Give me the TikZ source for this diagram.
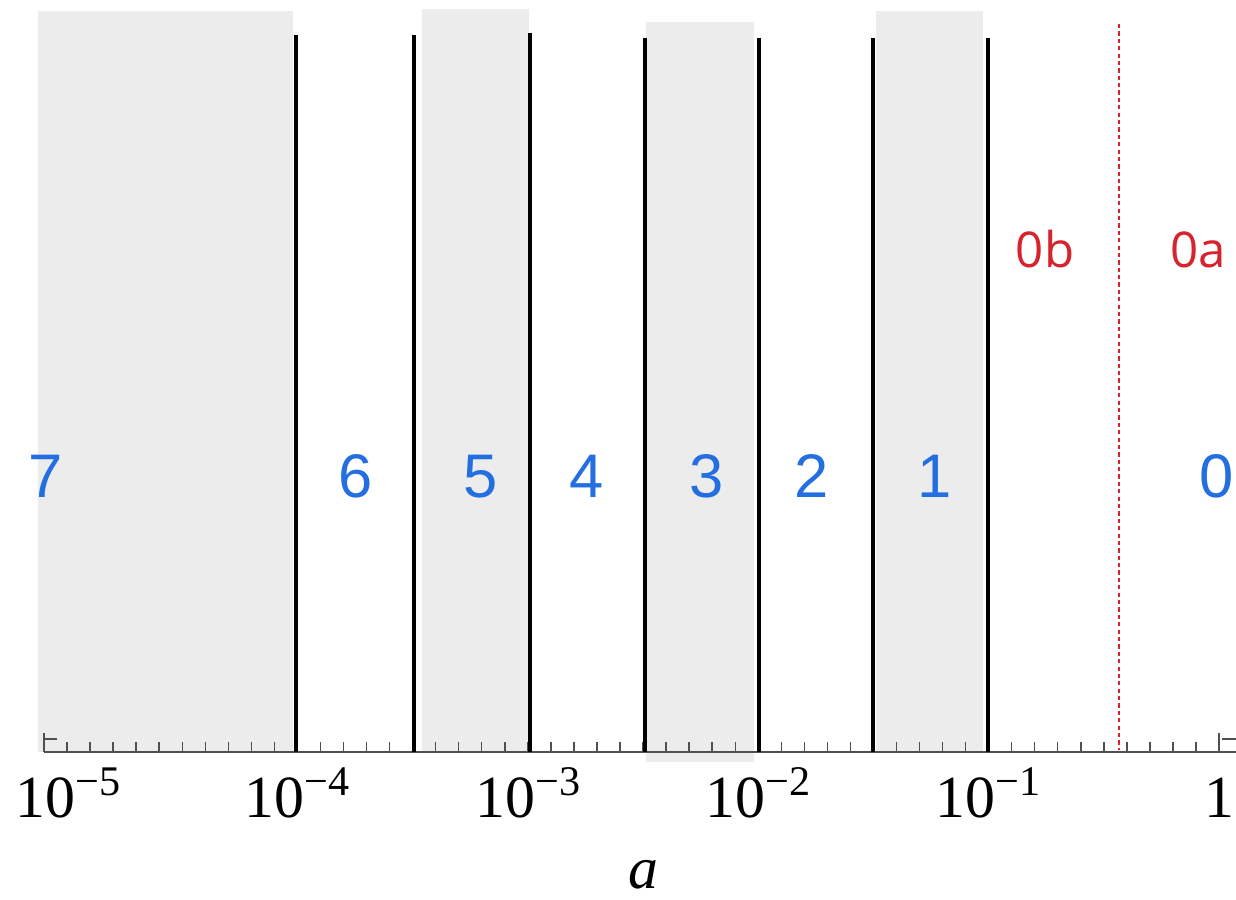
\documentclass[tikz,border=0pt]{standalone}
\usepackage{fontspec}
\setmainfont{Liberation Serif}
\newfontfamily\zonefont{Liberation Sans}
\newfontfamily\subfont{Open Sans}
\definecolor{bandgray}{RGB}{236,236,236}
\definecolor{zoneblue}{RGB}{35,110,225}
\definecolor{subred}{RGB}{215,35,45}
\definecolor{axisgray}{RGB}{80,80,80}
\newcommand{\tenpow}[1]{10\raisebox{0.36em}{\fontsize{12}{12}\selectfont −#1}}

\begin{document}
\begin{tikzpicture}[x=0.01cm, y=-0.01cm,
      band/.style={fill=bandgray, draw=none},
      wall/.style={black, line width=1pt},
      tickmark/.style={axisgray, line width=0.4pt},
      zone/.style={text=zoneblue, font=\zonefont\fontsize{17.5}{20}\selectfont,
          inner sep=0pt, anchor=base},
      sub/.style={text=subred, font=\subfont\fontsize{14}{16}\selectfont,
          inner sep=0pt, anchor=base},
      lbl/.style={font=\fontsize{17}{20}\selectfont, inner sep=0pt, anchor=base}
    ]
    \useasboundingbox (0,0) rectangle (1236,899);

    \fill[band] (38,11)  rectangle (293,752);
    \fill[band] (422,9)  rectangle (529,752);
    \fill[band] (646,22) rectangle (754,762);
    \fill[band] (876,11) rectangle (983,752);

    \draw[axisgray, line width=0.5pt] (44,752) -- (1236,752);
    \foreach \k in {1,...,50}
      \draw[tickmark] ({44+23.04*\k},752) -- ++(0,-10);
    \draw[tickmark] (44,733) -- (44,752);
    \draw[tickmark] (44,739) -- (57,739);
    \draw[tickmark] (1219,733) -- (1219,752);
    \draw[tickmark] (1222,739) -- (1236,739);

    \foreach \x/\t in {296/35, 414/35, 530/33, 645/38, 759/38, 873/38, 988/38}
      \draw[wall] (\x,\t) -- (\x,752);
    \draw[subred, line width=0.4pt, dash pattern=on 1.2pt off 0.9pt] (1119,24) -- (1119,750);

    \foreach \n/\x in {7/46, 6/356, 5/481, 4/587, 3/707, 2/812, 1/935, 0/1217}
      \node[zone] (z\n) at (\x,497) {\n};
    \node[sub] (z0b) at (1045,267) {0b};
    \node[sub] (z0a) at (1198,267) {0a};

    \foreach \e/\x in {5/68, 4/297, 3/528, 2/758, 1/988}
      \node[lbl] (t\e) at (\x,817) {\tenpow{\e}};
    \node[lbl] (t0) at (1219,817) {1};
    \node[lbl, font=\itshape\fontsize{17}{20}\selectfont] (alab) at (643,888) {a};
  \end{tikzpicture}
\end{document}
